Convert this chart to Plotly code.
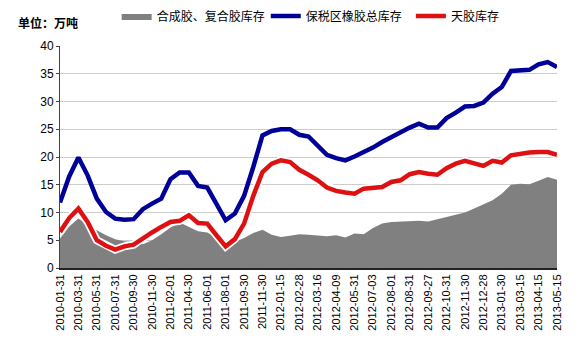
import plotly.graph_objects as go

tick_labels = ["2010-01-31", "2010-03-31", "2010-05-31", "2010-07-31", "2010-09-30", "2010-11-30",
               "2011-02-01", "2011-04-30", "2011-06-01", "2011-08-01", "2011-09-30", "2011-11-30",
               "2012-01-15", "2012-02-28", "2012-03-16", "2012-04-09", "2012-05-31", "2012-07-03",
               "2012-08-01", "2012-08-31", "2012-09-27", "2012-10-31", "2012-11-30", "2012-12-28",
               "2013-01-30", "2013-03-15", "2013-04-15", "2013-05-15"]

synthetic = [5.3, 7.5, 8.9, 7.8, 6.8, 5.9, 5.2, 4.8, 4.7, 4.3,
             5.0, 6.1, 7.3, 8.2, 7.4, 6.6, 6.4, 5.5, 4.0, 4.7,
             5.4, 6.3, 6.9, 6.0, 5.6, 5.8, 6.1, 6.0, 5.8, 5.7,
             5.9, 5.5, 6.2, 6.1, 7.2, 8.0, 8.3, 8.4, 8.4, 8.5,
             8.4, 8.8, 9.3, 9.6, 10.0, 10.7, 11.4, 12.2, 13.4, 15.0,
             15.2, 15.1, 15.7, 16.4, 15.9]

bonded_total = [11.8, 16.5, 19.9, 16.7, 12.5, 10.1, 8.9, 8.7, 8.8, 10.6,
                11.6, 12.5, 16.0, 17.2, 17.2, 14.8, 14.5, 11.5, 8.6, 9.8,
                13.0, 18.2, 23.9, 24.7, 25.0, 25.0, 24.0, 23.7, 22.0, 20.4,
                19.8, 19.4, 20.1, 20.8, 21.7, 22.7, 23.6, 24.3, 25.3, 26.0,
                25.3, 25.3, 27.0, 28.0, 29.1, 29.2, 29.8, 31.4, 32.6, 35.5,
                35.7, 35.7, 36.7, 37.1, 36.2]

natural = [6.5, 9.0, 10.7, 8.3, 5.0, 4.0, 3.3, 3.9, 4.2, 5.4,
           6.4, 7.4, 8.3, 8.5, 9.5, 8.1, 8.0, 5.9, 3.9, 5.2,
           8.0, 13.0, 17.3, 18.8, 19.4, 19.1, 17.7, 16.8, 15.8, 14.5,
           13.9, 13.6, 13.4, 14.3, 14.4, 14.6, 15.5, 15.8, 16.9, 17.3,
           17.0, 16.8, 18.0, 18.8, 19.3, 18.8, 18.4, 19.3, 19.0, 20.3,
           20.6, 20.8, 20.9, 20.9, 20.4]

names = ["合成胶、复合胶库存", "保税区橡胶总库存", "天胶库存"]

x = list(range(len(synthetic)))
tickvals = list(range(0, len(synthetic), 2))

fig = go.Figure()
fig.add_trace(go.Scatter(x=x, y=synthetic, mode="lines", fill="tozeroy",
                         line=dict(color="#808080", width=0), fillcolor="#808080",
                         name=names[0], legend="legend"))
fig.add_trace(go.Scatter(x=x, y=bonded_total, mode="lines",
                         line=dict(color="#000099", width=4.5),
                         name=names[1], legend="legend2"))
fig.add_trace(go.Scatter(x=x, y=natural, mode="lines",
                         line=dict(color="white", width=8),
                         showlegend=False, hoverinfo="skip"))
fig.add_trace(go.Scatter(x=x, y=natural, mode="lines",
                         line=dict(color="#dd1111", width=4.5),
                         name=names[2], legend="legend3"))

font_cjk = "Noto Sans CJK SC, Arial, sans-serif"
W, H = 579, 347
ML, MR, MT, MB = 60, 22, 46, 79
plot_w = W - ML - MR
plot_h = H - MT - MB

leg_common = dict(orientation="h", yref="container", yanchor="middle", y=1 - 16 / H,
                  xanchor="left", bgcolor="rgba(0,0,0,0)",
                  font=dict(family=font_cjk, size=12, color="#000"), itemwidth=30)

fig.update_layout(
    width=W, height=H,
    margin=dict(l=ML, r=MR, t=MT, b=MB, autoexpand=False),
    plot_bgcolor="white", paper_bgcolor="white",
    legend=dict(x=0.114, **leg_common),
    legend2=dict(x=0.414, **leg_common),
    legend3=dict(x=0.706, **leg_common),
    xaxis=dict(range=[0, len(synthetic) - 1], tickmode="array", tickvals=tickvals,
               ticktext=tick_labels, tickangle=-90, showgrid=False,
               showline=True, linecolor="#222", linewidth=2,
               tickfont=dict(family="Arial, Liberation Sans", size=11, color="#000"),
               zeroline=False),
    yaxis=dict(range=[0, 40], dtick=5, showgrid=True, gridcolor="#cccccc", gridwidth=1,
               showline=True, linecolor="#444", linewidth=1, ticks="outside", ticklen=3,
               tickcolor="#444",
               tickfont=dict(family="Arial, Liberation Sans", size=12, color="#000"),
               zeroline=False),
    annotations=[dict(text="<b>单位：万吨</b>", xref="paper", yref="paper",
                      x=(16 - ML) / plot_w, y=1 + (MT - 22) / plot_h,
                      xanchor="left", yanchor="middle", showarrow=False,
                      font=dict(family=font_cjk, size=12, color="#000"))],
)

fig.write_html("out.html")
